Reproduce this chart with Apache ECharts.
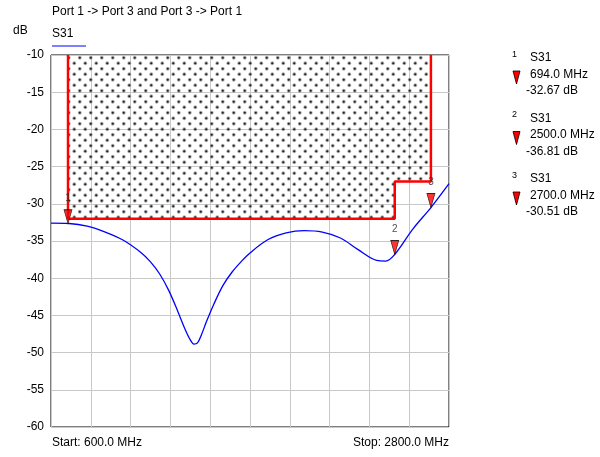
<!DOCTYPE html>
<html>
<head>
<meta charset="utf-8">
<script src="https://cdn.jsdelivr.net/npm/echarts@6/dist/echarts.min.js"></script>
<style>html,body{margin:0;padding:0;background:#fff;}#c{width:600px;height:457px;}</style>
</head>
<body>
<div id="c"></div>
<script>
// ---- data ----
const freqMHz = [600, 700, 800, 900, 1000, 1100, 1150, 1200, 1250, 1300, 1340, 1370, 1390, 1410, 1430, 1460, 1500, 1550, 1600, 1650, 1700, 1800, 1900, 2000, 2100, 2200, 2300, 2400, 2450, 2500, 2600, 2700, 2800];
const s31dB   = [-32.6, -32.65, -33.0, -33.8, -34.9, -36.6, -37.8, -39.4, -41.6, -44.4, -46.8, -48.3, -48.85, -48.7, -47.7, -45.8, -43.5, -41.0, -39.2, -37.8, -36.6, -34.8, -33.9, -33.6, -33.8, -34.6, -36.2, -37.6, -37.7, -36.81, -33.4, -30.51, -27.3];
const limitFreq = [694, 694, 2500, 2500, 2700, 2700];
const limitDB   = [-10, -32, -32, -27, -27, -10];
const markerFreq = [694, 2500, 2700];
const markerDB   = [-32.67, -36.81, -30.51];
const markerNames = ['1', '2', '3'];
const yTicks = [-60, -55, -50, -45, -40, -35, -30, -25, -20, -15, -10];
const xStart = 600, xStop = 2800;
const traceName = 'S31';
const titleText = 'Port 1 -> Port 3 and Port 3 -> Port 1';

// ---- dotted fill pattern ----
const pc = document.createElement('canvas');
pc.width = 11; pc.height = 11;
const pctx = pc.getContext('2d');
function dot(x, y) {
  pctx.fillStyle = 'rgba(110,110,110,0.55)';
  pctx.beginPath(); pctx.arc(x, y, 1.9, 0, Math.PI * 2); pctx.fill();
  pctx.fillStyle = '#222';
  pctx.beginPath(); pctx.arc(x, y, 1.1, 0, Math.PI * 2); pctx.fill();
}
dot(2.75, 2.75); dot(8.25, 8.25);

const curve = freqMHz.map((f, i) => [f, s31dB[i]]);
const limit = limitFreq.map((f, i) => [f, limitDB[i]]);
const markers = markerFreq.map((f, i) => ({ value: [f, markerDB[i]], name: markerNames[i] }));

const FONT = 'Liberation Sans, Arial, sans-serif';
const graphics = [
  { type: 'text', left: 52, top: 6, style: { text: titleText, font: '12px ' + FONT, fill: '#000' } },
  { type: 'text', left: 13, top: 25, style: { text: 'dB', font: '12px ' + FONT, fill: '#000' } },
  { type: 'text', left: 52, top: 28, style: { text: traceName, font: '12px ' + FONT, fill: '#000' } },
  { type: 'line', shape: { x1: 52, y1: 46, x2: 86, y2: 46 }, style: { stroke: '#0000ff', lineWidth: 1.2 } },
  { type: 'text', left: 52, top: 437, style: { text: 'Start: ' + xStart.toFixed(1) + ' MHz', font: '12px ' + FONT, fill: '#000' } },
  { type: 'text', right: 151, top: 437, style: { text: 'Stop: ' + xStop.toFixed(1) + ' MHz', font: '12px ' + FONT, fill: '#000', align: 'right' } }
];
markerFreq.forEach((f, i) => {
  const y0 = 59 + 60.5 * i;
  graphics.push(
    { type: 'text', x: 512, y: y0 - 9, style: { text: markerNames[i], font: '9px ' + FONT, fill: '#000' } },
    { type: 'text', x: 530, y: y0 - 7, style: { text: traceName, font: '12px ' + FONT, fill: '#000' } },
    { type: 'polygon', shape: { points: [[513, y0 + 12], [520, y0 + 12], [516.5, y0 + 25]] }, style: { fill: '#ff0000', stroke: '#000', lineWidth: 0.8 } },
    { type: 'text', x: 530, y: y0 + 9.5, style: { text: f.toFixed(1) + ' MHz', font: '12px ' + FONT, fill: '#000' } },
    { type: 'text', x: 526, y: y0 + 26, style: { text: markerDB[i].toFixed(2) + ' dB', font: '12px ' + FONT, fill: '#000' } }
  );
});

const chart = echarts.init(document.getElementById('c'), null, { renderer: 'canvas' });
chart.setOption({
  animation: false,
  backgroundColor: '#fff',
  grid: { left: 51, right: 151, top: 55, bottom: 30, show: true, borderColor: '#000', borderWidth: 1, backgroundColor: 'transparent' },
  xAxis: [
    { type: 'value', min: xStart, max: xStop, show: true, axisLabel: { show: false }, axisTick: { show: false }, axisLine: { show: false }, splitLine: { show: false } },
    { type: 'value', min: 0, max: 10, interval: 1, position: 'bottom', axisLabel: { show: false }, axisTick: { show: false }, axisLine: { show: false }, splitLine: { show: true, lineStyle: { color: '#c8c8c8', width: 1 } } }
  ],
  yAxis: {
    type: 'value', min: -60, max: -10, interval: 5,
    axisLabel: { color: '#000', fontSize: 12, fontFamily: FONT, margin: 7, customValues: yTicks },
    axisTick: { show: false }, axisLine: { show: false },
    splitLine: { show: true, lineStyle: { color: '#c8c8c8', width: 1 } }
  },
  series: [
    {
      type: 'line', data: limit, xAxisIndex: 0, symbol: 'none', z: 3,
      lineStyle: { color: '#ff0000', width: 2.5 },
      areaStyle: { origin: 'end', color: { image: pc, repeat: 'repeat' }, opacity: 1 }
    },
    {
      type: 'line', data: curve, xAxisIndex: 0, symbol: 'none', smooth: 0.35, z: 4,
      lineStyle: { color: '#0000ff', width: 1.3 }
    },
    {
      type: 'scatter', data: markers, xAxisIndex: 0, z: 5,
      symbol: 'path://M0 0L6 0L3 12Z', symbolSize: [8, 14], symbolOffset: [0, '-50%'],
      itemStyle: { color: '#ff0000', borderColor: '#000', borderWidth: 0.8 },
      label: { show: true, position: 'top', distance: 6, formatter: p => p.name, fontSize: 10, color: '#222', fontFamily: FONT }
    }
  ],
  graphic: graphics
});
</script>
</body>
</html>
